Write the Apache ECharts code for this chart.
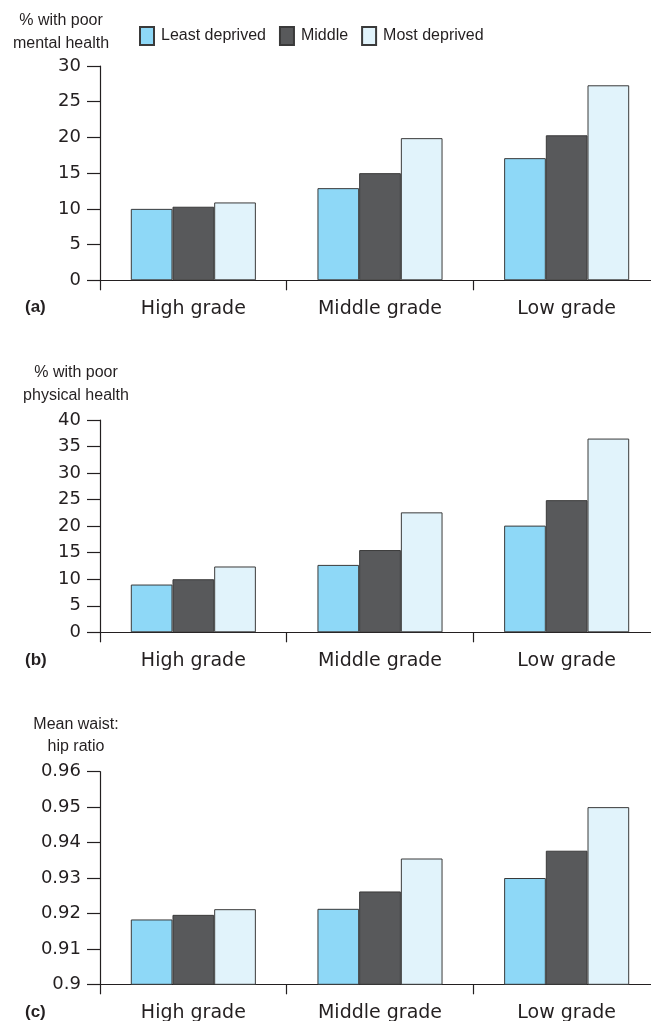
<!DOCTYPE html>
<html>
<head>
<meta charset="utf-8">
<script src="https://cdn.jsdelivr.net/npm/echarts@6/dist/echarts.min.js"></script>
<style>
  html, body { margin: 0; padding: 0; background: #fff; }
  #chart { width: 651px; height: 1021px; }
</style>
</head>
<body>
<div id="chart"></div>
<script>
// Categories shared by all three panels
const grades = ['High grade', 'Middle grade', 'Low grade'];
const groups = ['Least deprived', 'Middle', 'Most deprived'];

// (a) % with poor mental health
const mentalLeast = [10.0, 12.9, 17.1];
const mentalMiddle = [10.3, 15.0, 20.3];
const mentalMost = [10.9, 19.9, 27.3];

// (b) % with poor physical health
const physicalLeast = [9.0, 12.7, 20.1];
const physicalMiddle = [10.0, 15.5, 24.9];
const physicalMost = [12.4, 22.6, 36.5];

// (c) Mean waist:hip ratio
const waistLeast = [0.9183, 0.9213, 0.9300];
const waistMiddle = [0.9196, 0.9262, 0.9377];
const waistMost = [0.9212, 0.9355, 0.9500];

const panelTitles = [['% with poor', 'mental health'], ['% with poor', 'physical health'], ['Mean waist:', 'hip ratio']];
const panelLetters = ['(a)', '(b)', '(c)'];

const colors = ['#8ED8F7', '#58595B', '#E1F3FB'];
const ink = '#231f20';
const sans = 'DejaVu Sans, sans-serif';

const panels = [
  { data: [mentalLeast, mentalMiddle, mentalMost], min: 0, max: 30, interval: 5, top: 66, height: 214.3 },
  { data: [physicalLeast, physicalMiddle, physicalMost], min: 0, max: 40, interval: 5, top: 420, height: 212.3 },
  { data: [waistLeast, waistMiddle, waistMost], min: 0.9, max: 0.96, interval: 0.01, top: 771.7, height: 212.6 }
];

// The plot area runs a little past the right edge of the page
const grid = panels.map(p => ({ left: 100, width: 560, top: p.top, height: p.height, outerBoundsMode: 'none', containLabel: false }));

const xAxis = panels.map((p, i) => ({
  type: 'category',
  gridIndex: i,
  data: grades,
  axisLine: { lineStyle: { color: ink, width: 1.2 } },
  axisTick: { show: true, length: 10, inside: false, lineStyle: { color: ink, width: 1.2 } },
  axisLabel: { color: ink, fontFamily: sans, fontSize: 19, margin: 19 }
}));

const yAxis = panels.map((p, i) => ({
  type: 'value',
  gridIndex: i,
  min: p.min,
  max: p.max,
  interval: p.interval,
  splitLine: { show: false },
  axisLine: { show: true, lineStyle: { color: ink, width: 1.2 } },
  axisTick: { show: true, length: 13, lineStyle: { color: ink, width: 1.2 } },
  axisLabel: { color: ink, fontFamily: sans, fontSize: 18, margin: 19 }
}));

const series = [];
panels.forEach((p, i) => {
  p.data.forEach((vals, k) => {
    series.push({
      name: groups[k],
      type: 'bar',
      xAxisIndex: i,
      yAxisIndex: i,
      data: vals,
      barGap: '0%',
      barCategoryGap: '33%',
      itemStyle: { color: colors[k], borderColor: '#3a3a3a', borderWidth: 1 },
      emphasis: { disabled: true }
    });
  });
});

// Axis titles and panel letters
const titleCentres = [
  { x: 61, y: [21, 44] },
  { x: 76, y: [373, 396] },
  { x: 76, y: [725, 747] }
];
const letterY = [307, 660, 1012];
const graphic = [];
titleCentres.forEach((t, i) => {
  panelTitles[i].forEach((line, j) => {
    graphic.push({
      type: 'text', x: t.x, y: t.y[j],
      style: { text: line, fill: ink, font: '16px "Liberation Sans", Arial, sans-serif', textAlign: 'center', textVerticalAlign: 'middle' }
    });
  });
  graphic.push({
    type: 'text', x: 25, y: letterY[i],
    style: { text: panelLetters[i], fill: ink, font: 'bold 17px "Liberation Sans", Arial, sans-serif', textAlign: 'left', textVerticalAlign: 'middle' }
  });
});

const chart = echarts.init(document.getElementById('chart'), null, { renderer: 'canvas' });
chart.setOption({
  animation: false,
  backgroundColor: '#fff',
  legend: {
    data: groups,
    left: 139,
    top: 26,
    padding: 0,
    icon: 'rect',
    itemWidth: 14,
    itemHeight: 18,
    itemGap: 13,
    selectedMode: false,
    textStyle: { color: ink, fontSize: 16, fontFamily: '"Liberation Sans", Arial, sans-serif', padding: [0, 0, 0, 2] }
  },
  grid: grid,
  xAxis: xAxis,
  yAxis: yAxis,
  series: series,
  graphic: graphic
});
</script>
</body>
</html>
